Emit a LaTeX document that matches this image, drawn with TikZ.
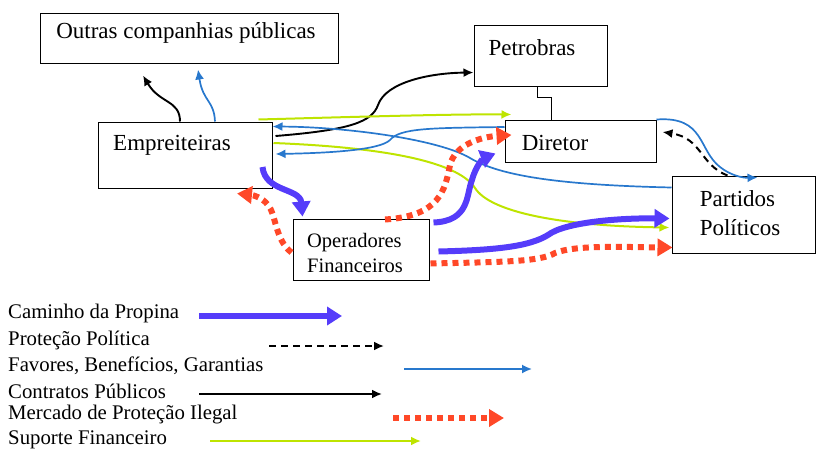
\documentclass[tikz,border=0pt]{standalone}
\usepackage{fontspec}
\setmainfont{Liberation Serif}
\usetikzlibrary{arrows.meta,calc}

\definecolor{propina}{RGB}{85,60,250}
\definecolor{favor}{RGB}{40,120,205}
\definecolor{suporte}{RGB}{190,228,0}
\definecolor{ilegal}{RGB}{255,72,40}

\begin{document}
\begin{tikzpicture}[x=1pt,y=-1pt,>={Latex[length=10pt,width=9pt]}]
	\tikzstyle{block} = [draw, rectangle, line width=1pt, inner sep=0pt]
	\tikzstyle{txt} = [inner sep=0pt, font=\fontsize{23}{29}\selectfont, align=left]
	\tikzstyle{legtxt} = [inner sep=0pt, anchor=west, font=\fontsize{20.8}{24}\selectfont]
	\tikzstyle{rota} = [draw=propina, line width=6pt, -{Triangle[length=15pt,width=18pt]}]
	\tikzstyle{protecao} = [draw=black, line width=2pt, dash pattern=on 7pt off 5pt, ->]
	\tikzstyle{favores} = [draw=favor, line width=1.7pt, ->]
	\tikzstyle{contrato} = [draw=black, line width=1.9pt, ->]
	\tikzstyle{mercado} = [draw=ilegal, line width=6pt, dash pattern=on 6pt off 5pt, -{Triangle[length=15pt,width=17pt]}]
	\tikzstyle{apoio} = [draw=suporte, line width=2pt, ->]

	\useasboundingbox (0,0) rectangle (817,450);

	\node [block, minimum width=298pt, minimum height=50pt] (outras) at (189,38) {};
	\node [txt] (outras-t) at (186,33) {Outras companhias públicas};
	\node [block, minimum width=133pt, minimum height=61pt] (petro) at (540.5,55.5) {};
	\node [txt] (petro-t) at (532,48) {Petrobras};
	\node [block, minimum width=174pt, minimum height=66pt] (emp) at (185,155) {};
	\node [txt] (emp-t) at (172,145) {Empreiteiras};
	\node [block, minimum width=151pt, minimum height=42pt] (dir) at (580.5,141) {};
	\node [txt] (dir-t) at (555,143) {Diretor};
	\node [block, minimum width=143pt, minimum height=77pt] (part) at (743.5,214.5) {};
	\node [txt] (part-t) at (740,213) {Partidos\\Políticos};
	\node [block, minimum width=136pt, minimum height=61pt] (oper) at (361,249.5) {};
	\node [txt, font=\fontsize{20.5}{25}\selectfont] (oper-t) at (355,253) {Operadores\\Financeiros};

	\draw [line width=1pt] (petro.south) ++(-3,0) |- (551,97) -- (dir.north -| 551,0);

	\draw [contrato] ($(emp.north)+(-5,0)$) .. controls (180,100) and (160,104) .. ($(outras.south)+(-46,12)$);
	\draw [favores] ($(emp.north)+(30,0)$) .. controls (214,100) and (203,102) .. ($(outras.south)+(9,6)$);
	\draw [contrato] ($(emp.east)+(3,-19)$) .. controls (350,130) and (372,122) .. (378,105) .. controls (386,82) and (430,73) .. ($(petro.west)+(0,17)$);
	\draw [apoio] ($(emp.north east)+(-14,-2)$) .. controls (350,117) and (450,114) .. ($(dir.north west)+(7,-5)$);
	\draw [apoio] ($(emp.east)+(1,-12)$) .. controls (400,148) and (460,165) .. (475,188) .. controls (490,212) and (560,226) .. ($(part.west)+(-2,13)$);
	\draw [favores] ($(part.west)+(0,-27)$) .. controls (560,185) and (500,176) .. (470,158) .. controls (440,140) and (350,127) .. ($(emp.north east)+(0,5)$);
	\draw [favores] ($(dir.west)+(0,-14)$) .. controls (430,128) and (400,128) .. (390,140) .. controls (380,150) and (330,153) .. ($(emp.east)+(3,-1)$);
	\draw [favores] (dir.north east) .. controls (705,116) and (698,150) .. (720,167) .. controls (730,175) and (742,178) .. ($(part.north)+(14,2)$);
	\draw [protecao] ($(part.north)+(-16,0)$) .. controls (700,165) and (702,138) .. ($(dir.east)+(6,-9)$);

	\draw [rota] ($(emp.east)+(-10,12)$) .. controls (265,192) and (300,188) .. ($(oper.north west)+(10,-2)$);
	\draw [rota] ($(oper.north east)+(4,4)$) .. controls (470,221) and (466,195) .. (472,180) .. controls (476,165) and (484,158) .. ($(dir.south west)+(-9,-9)$);
	\draw [rota] ($(oper.east)+(9,2)$) .. controls (500,250) and (530,246) .. (548,235) .. controls (565,222) and (620,218) .. ($(part.west)+(-2,4)$);
	\draw [mercado] ($(oper.north)+(24,1)$) .. controls (440,216) and (445,190) .. (450,165) .. controls (455,145) and (480,137) .. ($(dir.west)+(7,-6)$);
	\draw [mercado] ($(oper.west)+(-1,3)$) .. controls (275,240) and (276,214) .. (268,205) .. controls (262,197) and (252,195) .. ($(emp.south)+(52,5)$);
	\draw [mercado] ($(oper.east)+(1,14)$) .. controls (500,262) and (540,262) .. (555,253) .. controls (575,245) and (620,247) .. ($(part.west)+(1,33)$);

	\node [legtxt] (leg-rota) at (8,313) {Caminho da Propina};
	\node [legtxt] (leg-prot) at (8,340) {Proteção Política};
	\node [legtxt] (leg-fav) at (8,366) {Favores, Benefícios, Garantias};
	\node [legtxt] (leg-contr) at (8,391) {Contratos Públicos};
	\node [legtxt] (leg-merc) at (8,415) {Mercado de Proteção Ilegal};
	\node [legtxt] (leg-apoio) at (8,440) {Suporte Financeiro};

	\coordinate (r1) at (199,316); \coordinate (r2) at (342,316);
	\coordinate (p1) at (269,346); \coordinate (p2) at (384,346);
	\coordinate (f1) at (404,369); \coordinate (f2) at (532,369);
	\coordinate (c1) at (199,394); \coordinate (c2) at (382,394);
	\coordinate (m1) at (393,418); \coordinate (m2) at (504,418);
	\coordinate (s1) at (210,441); \coordinate (s2) at (421,441);
	\draw [rota] (r1) -- (r2);
	\draw [protecao] (p1) -- (p2);
	\draw [favores] (f1) -- (f2);
	\draw [contrato] (c1) -- (c2);
	\draw [mercado] (m1) -- (m2);
	\draw [apoio] (s1) -- (s2);
\end{tikzpicture}
\end{document}
